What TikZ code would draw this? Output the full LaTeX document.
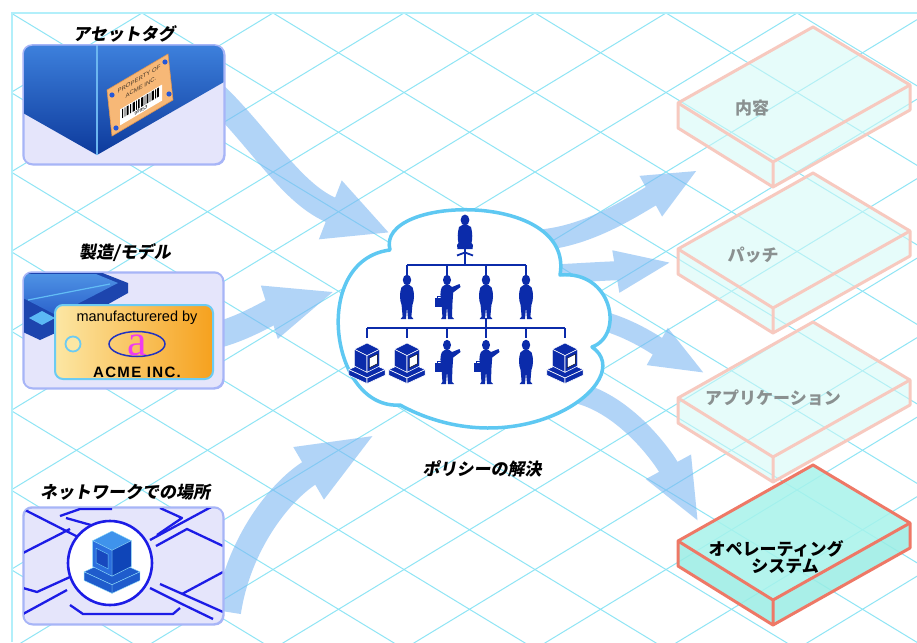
\documentclass[tikz,border=0pt]{standalone}
\usepackage{fontspec}
\usetikzlibrary{arrows.meta}
\newfontfamily\jplab[FakeSlant=0.18]{Noto Sans CJK JP}
\newfontfamily\jpbox{Noto Sans CJK JP}
\newfontfamily\lsans{Liberation Sans}
\newfontfamily\acmefont[LetterSpace=9]{Liberation Sans}
\newfontfamily\lserif{Liberation Serif}

\definecolor{gridc}{HTML}{8FE5F5}
\definecolor{framec}{HTML}{B2EFFA}
\definecolor{flowc}{HTML}{7DB8F3}
\definecolor{panelfill}{HTML}{E5E5FB}
\definecolor{paneledge}{HTML}{A7B5F7}
\definecolor{assettop}{HTML}{3D80DC}
\definecolor{assetbot}{HTML}{0D3A9C}
\definecolor{assetseam}{HTML}{6CB6F0}
\definecolor{tagorange}{HTML}{F7B877}
\definecolor{tagrim}{HTML}{DE9450}
\definecolor{taginkc}{HTML}{4A3A2A}
\definecolor{dotblue}{HTML}{2457D8}
\definecolor{trayblue}{HTML}{1D45AE}
\definecolor{traylight}{HTML}{4E92E4}
\definecolor{traymid}{HTML}{2B62CC}
\definecolor{trayglint}{HTML}{62BDF5}
\definecolor{traydiamond}{HTML}{5BB8F5}
\definecolor{mtagedge}{HTML}{6CCBF2}
\definecolor{mtagyellow}{HTML}{FCE7A4}
\definecolor{mtagmid}{HTML}{FBDB8C}
\definecolor{mtagorange}{HTML}{F6A11E}
\definecolor{logoblue}{HTML}{2233C0}
\definecolor{logopink}{HTML}{F03CF0}
\definecolor{netblue}{HTML}{1C1CE6}
\definecolor{pctopc}{HTML}{3F93EC}
\definecolor{pcrimc}{HTML}{8FDDFB}
\definecolor{pcdarkc}{HTML}{0F45B8}
\definecolor{pcmidc}{HTML}{2B6EDD}
\definecolor{pcbasec}{HTML}{1F5CCC}
\definecolor{pcscreenc}{HTML}{1848BE}
\definecolor{pcscreenrim}{HTML}{6CC8F6}
\definecolor{cloudedge}{HTML}{5EC8F2}
\definecolor{orgblue}{HTML}{0B2BAA}
\definecolor{slabfill}{HTML}{D2FAF6}
\definecolor{slabedge}{HTML}{F7C9BF}
\definecolor{osfill}{HTML}{A7F3EB}
\definecolor{osside}{HTML}{9AEDE4}
\definecolor{osedge}{HTML}{EE7866}
\definecolor{fadedtext}{HTML}{8A9090}

\tikzset{
  gridline/.style={draw=gridc, line width=1pt},
  flow/.style={draw=flowc, line width=#1},
  panel/.style={rounded corners=9pt, fill=panelfill, draw=paneledge, line width=1.5pt, inner sep=0pt},
  paneledgeonly/.style={rounded corners=9pt, draw=paneledge, line width=1.5pt},
  lab/.style={font=\jplab\bfseries\fontsize{17}{17}\selectfont, text=black, inner sep=0pt},
  boxlab/.style={font=\jpbox\bfseries\fontsize{17}{17}\selectfont, inner sep=0pt},
  netline/.style={draw=netblue, line width=2.3pt, line join=round},
  orgline/.style={draw=orgblue, line width=1.6pt},
  pc top/.style={fill=orgblue, draw=white, line width=0.6pt, line join=round},
  pc left/.style={fill=orgblue, draw=white, line width=0.6pt, line join=round},
  pc right/.style={fill=orgblue, draw=white, line width=0.6pt, line join=round},
  pc base/.style={fill=orgblue, draw=white, line width=0.6pt, line join=round},
  pc screen/.style={fill=white},
  slab top/.style={fill=slabfill, fill opacity=0.55},
  slab side/.style={fill=slabfill, fill opacity=0.55},
  slab edge/.style={draw=slabedge, line width=3pt, line join=round},
  pics/person/.style={code={
    \fill[orgblue] (0,5) ellipse [x radius=4.2pt, y radius=5.3pt];
    \fill[orgblue] (-1.8,9.5) -- (1.8,9.5) -- (5.6,12.5) .. controls (7.6,18) and (7.4,25) .. (5.4,30)
      -- (4.4,41.5) -- (6.4,44) -- (1,44) -- (0,32) -- (-1,44) -- (-6.4,44) -- (-4.4,41.5) -- (-5.4,30)
      .. controls (-7.4,25) and (-7.6,18) .. (-5.6,12.5) -- cycle;
  }},
  pics/pointer/.style={code={
    \fill[orgblue] (0,5) ellipse [x radius=4pt, y radius=5.2pt];
    \fill[orgblue] (-1.8,9.5) -- (1.8,9.5) -- (5,12) -- (12.5,9) -- (13.5,12) -- (6.2,17.5) -- (5.4,29)
      -- (5,42) -- (7,44) -- (1,44) -- (0,31) -- (-1,44) -- (-6,44) -- (-4.6,42) -- (-5.4,29)
      .. controls (-7,22) and (-7,15) .. (-5,12) -- cycle;
    \fill[orgblue] (-12,23) rectangle (-4,32);
    \draw[orgblue, line width=1pt] (-10,23) -- (-10,21) -- (-6,21) -- (-6,23);
  }},
  pics/seated/.style={code={
    \fill[orgblue] (0,5) ellipse [x radius=4.4pt, y radius=5.5pt];
    \fill[orgblue] (-1.8,9.5) -- (1.8,9.5) -- (6,12) .. controls (7.6,18) and (7.6,24) .. (6.5,28) -- (8,30)
      -- (7.5,34) -- (-7.5,34) -- (-8,30) -- (-6.5,28) .. controls (-7.6,24) and (-7.6,18) .. (-6,12) -- cycle;
    \fill[orgblue] (-1.4,34) rectangle (1.4,38);
    \draw[orgblue, line width=1.8pt] (-8,40.5) -- (0,37.5) -- (8,40.5) (0,37.5) -- (0,41);
  }},
  pics/computer/.style={code={
    \filldraw[pc base] (-13,19) -- (0,13) -- (13,19) -- (0,25) -- cycle;
    \filldraw[pc base] (-13,19) -- (0,25) -- (0,29) -- (-13,23) -- cycle;
    \filldraw[pc base] (0,25) -- (13,19) -- (13,23) -- (0,29) -- cycle;
    \filldraw[pc top] (-9,4.5) -- (0,0) -- (9,4.5) -- (0,9) -- cycle;
    \filldraw[pc left] (-9,4.5) -- (0,9) -- (0,21) -- (-9,16.5) -- cycle;
    \filldraw[pc right] (0,9) -- (9,4.5) -- (9,16.5) -- (0,21) -- cycle;
    \filldraw[pc screen] (1.8,10.8) -- (7.4,8) -- (7.4,14.8) -- (1.8,17.6) -- cycle;
  }},
  pics/slab/.style={code={
    \fill[slab top] (0,0) -- (97,58) -- (-40,135) -- (-135,76) -- cycle;
    \fill[slab side] (-135,76) -- (-40,135) -- (-40,160) -- (-135,101) -- cycle;
    \fill[slab side] (-40,135) -- (97,58) -- (97,83) -- (-40,160) -- cycle;
    \draw[slab edge] (0,0) -- (97,58) -- (97,83) -- (-40,160) -- (-135,101) -- (-135,76) -- cycle;
    \draw[slab edge] (-135,76) -- (-40,135) -- (97,58) (-40,135) -- (-40,160);
  }}
}

\begin{document}
\begin{tikzpicture}[x=1pt,y=-1pt]
\useasboundingbox (0,0) rectangle (917,642);
\fill[white] (0,0) rectangle (917,642);

% isometric background grid
\begin{scope}
  \clip (12,13) rectangle (917,642);
  \foreach \k in {-9,...,15}{
    \draw[gridline] ({11+131*\k},13) -- ++(1800,1092.4);
    \draw[gridline] ({11+131*\k},13) -- ++(-1800,1092.4);
  }
\end{scope}
\draw[draw=framec, line width=2pt] (12,642) -- (12,13) -- (917,13);

% end points of the flow arrows
\coordinate (a1s) at (212,92);   \coordinate (a1e) at (390,233);
\coordinate (a2s) at (214,336);  \coordinate (a2e) at (336,291);
\coordinate (a3s) at (228,612);  \coordinate (a3e) at (376,434);
\coordinate (r1s) at (540,240);  \coordinate (r1e) at (698,170);
\coordinate (r2s) at (555,274);  \coordinate (r2e) at (673,262);
\coordinate (r3s) at (585,318);  \coordinate (r3e) at (706,374);
\coordinate (r4s) at (578,393);  \coordinate (r4e) at (699,523);

% translucent flow arrows
\begin{scope}[transparency group, opacity=0.6]
  \draw[flow=26pt, -{Triangle[length=64pt,width=58pt]}] (a1s) .. controls (262,140) and (292,195) .. (a1e);
  \draw[flow=26pt, -{Triangle[length=70pt,width=50pt]}] (a2s) .. controls (245,328) and (270,312) .. (a2e);
  \draw[flow=26pt, -{Triangle[length=78pt,width=54pt]}] (a3s) .. controls (238,545) and (280,490) .. (a3e);
  \draw[flow=21pt, -{Triangle[length=54pt,width=42pt]}] (r1s) .. controls (590,236) and (635,205) .. (r1e);
  \draw[flow=19pt, -{Triangle[length=58pt,width=38pt]}] (r2s) .. controls (590,272) and (625,270) .. (r2e);
  \draw[flow=19pt, -{Triangle[length=56pt,width=38pt]}] (r3s) .. controls (620,320) and (660,348) .. (r3e);
  \draw[flow=21pt, -{Triangle[length=64pt,width=46pt]}] (r4s) .. controls (625,405) and (662,455) .. (r4e);
\end{scope}

% ---------- asset tag panel ----------
\node[panel, minimum width=201pt, minimum height=119pt, anchor=north west] (asset) at (23,45) {};
\begin{scope}
  \clip[rounded corners=9pt] (23,45) rectangle (224,164);
  \shade[top color=assettop, bottom color=assetbot] (23,45) -- (224,45) -- (224,82) -- (97,155) -- (23,113) -- cycle;
  \draw[draw=assetseam, line width=1.3pt] (97,45) -- (97,155);
\end{scope}
\draw[paneledgeonly] (23,45) rectangle (224,164);
\filldraw[fill=tagorange, draw=tagrim, line width=0.6pt] (107,90) -- (168,54) -- (173,100) -- (112,136) -- cycle;
\fill[dotblue] (112,95) circle (2.6pt) (165,62) circle (2.6pt) (169,94) circle (2.6pt) (116,128) circle (2.6pt);
\node[font=\lsans\fontsize{6}{6}\selectfont, text=taginkc, yslant=0.59, inner sep=0pt] (tagowner) at (139,79) {PROPERTY OF};
\node[font=\lsans\fontsize{6}{6}\selectfont, text=taginkc, yslant=0.59, inner sep=0pt] (tagfirm) at (141,87) {ACME INC.};
\begin{scope}[shift={(141,104)}, yslant=0.59]
  \fill[white] (-21,-7) rectangle (21,9);
  \foreach \bx/\bw in {-19/1.2,-16.5/0.8,-14.5/2,-11/1,-8.5/2.4,-5/0.8,-3/1.6,0/2.4,3.5/0.9,5.5/1.8,8.5/0.8,10.5/2.4,14/1,16/1.8}
    \fill[black] (\bx,-6) rectangle ++(\bw,9);
  \node[font=\lsans\fontsize{4.5}{4.5}\selectfont, inner sep=0pt, transform shape] (tagnum) at (0,6.2) {99953};
\end{scope}
\node[lab] (assetlab) at (124,34) {アセットタグ};

% ---------- make / model panel ----------
\node[panel, minimum width=200pt, minimum height=116pt, anchor=north west] (make) at (23,272) {};
\begin{scope}
  \clip[rounded corners=9pt] (23,272) rectangle (223,388);
  \fill[trayblue] (23,272) -- (100,272) -- (128,283) -- (128,293) -- (62,330) -- (40,340) -- (23,332) -- cycle;
  \shade[top color=traylight, bottom color=traymid] (23,274) -- (96,274) -- (118,283) -- (56,315) -- (23,298) -- cycle;
  \draw[draw=trayglint, line width=1.2pt] (28,300) -- (110,284);
  \fill[traydiamond] (29,318) -- (42,311) -- (55,318) -- (42,325) -- cycle;
\end{scope}
\draw[paneledgeonly] (23,272) rectangle (223,388);
\shade[rounded corners=8pt, left color=mtagyellow, middle color=mtagmid, right color=mtagorange] (55,305) rectangle (213,379);
\draw[rounded corners=8pt, draw=mtagedge, line width=2pt] (55,305) rectangle (213,379);
\draw[draw=mtagedge, fill=mtagyellow, line width=1.8pt] (73,344) circle (7.5pt);
\node[font=\lsans\fontsize{14.5}{14.5}\selectfont, inner sep=0pt] (madeby) at (137,318) {manufacturered by};
\draw[draw=logoblue, line width=1.5pt] (137,344) ellipse [x radius=28pt, y radius=12.5pt];
\node[font=\lserif\fontsize{44}{44}\selectfont, text=logopink, inner sep=0pt] (logo) at (137,345) {a};
\node[font=\acmefont\bfseries\fontsize{15}{15}\selectfont, inner sep=0pt] (acme) at (137,372) {ACME INC.};
\node[lab] (makelab) at (125,253) {製造/モデル};

% ---------- network location panel ----------
\node[panel, minimum width=200pt, minimum height=117pt, anchor=north west] (net) at (23,507) {};
\begin{scope}
  \clip[rounded corners=9pt] (23,507) rectangle (223,624);
  \draw[netline] (25,510) -- (80,538);
  \draw[netline] (23,553) -- (70,529);
  \draw[netline] (60,516) -- (80,509) -- (112,509);
  \draw[netline] (66,518) -- (98,527);
  \draw[netline] (150,540) -- (213,506);
  \draw[netline] (156,546) -- (187,529) -- (223,546);
  \draw[netline] (160,508) -- (182,518) -- (157,535);
  \draw[netline] (182,594) -- (223,572);
  \draw[netline] (150,588) -- (182,604) -- (213,619);
  \draw[netline] (160,584) -- (223,612);
  \draw[netline] (70,605) -- (83,614) -- (173,614) -- (180,608);
  \draw[netline] (23,588) -- (37,592) -- (70,577);
  \draw[netline] (23,614) -- (67,590);
\end{scope}
\draw[paneledgeonly] (23,507) rectangle (223,624);
\draw[draw=netblue, fill=white, line width=2.6pt] (110,563) circle (42pt);
\pic[xscale=-2.15, yscale=2.15,
     pc top/.style={fill=pctopc, draw=pcrimc, line width=0.4pt, line join=round},
     pc left/.style={fill=pcdarkc, draw=pcrimc, line width=0.4pt, line join=round},
     pc right/.style={fill=pcmidc, draw=pcrimc, line width=0.4pt, line join=round},
     pc base/.style={fill=pcbasec, draw=pcrimc, line width=0.4pt, line join=round},
     pc screen/.style={fill=pcscreenc, draw=pcscreenrim, line width=0.5pt}] at (112,531) {computer};
\node[lab] (netlab) at (125,492) {ネットワークでの場所};

% ---------- policy cloud ----------
\draw[draw=cloudedge, fill=white, line width=3.5pt, line join=round]
  (390,250) .. controls (375,195) and (575,190) .. (560,275)
  .. controls (612,270) and (625,335) .. (592,347)
  .. controls (640,380) and (520,470) .. (400,405)
  .. controls (330,410) and (310,260) .. (390,250) -- cycle;

% organisation chart
\pic at (465,215) {seated};
\draw[orgline] (465,256) -- (465,265);
\draw[orgline] (407,265) -- (526,265);
\foreach \px in {407,447,486,526} \draw[orgline] (\px,265) -- (\px,275);
\pic at (407,275) {person};
\pic at (447,275) {pointer};
\pic at (486,275) {person};
\pic at (526,275) {person};
\draw[orgline] (486,318) -- (486,328);
\draw[orgline] (367,328) -- (565,328);
\foreach \px in {367,407,447,486,526,565} \draw[orgline] (\px,328) -- (\px,338);
\pic[scale=1.4] at (367,343) {computer};
\pic[scale=1.4] at (407,343) {computer};
\pic at (447,340) {pointer};
\pic at (486,340) {pointer};
\pic at (526,340) {person};
\pic[scale=1.4] at (565,343) {computer};
\node[lab] (policylab) at (482,469) {ポリシーの解決};

% ---------- target layers ----------
\pic at (813,27) {slab};
\pic at (813,173) {slab};
\pic at (813,322) {slab};
\pic[slab top/.style={fill=osfill, fill opacity=0.85},
     slab side/.style={fill=osside, fill opacity=0.85},
     slab edge/.style={draw=osedge, line width=3pt, line join=round}] at (813,465) {slab};
\node[boxlab, text=fadedtext] (contents) at (752,108) {内容};
\node[boxlab, text=fadedtext] (patch) at (753,255) {パッチ};
\node[boxlab, text=fadedtext] (apps) at (773,398) {アプリケーション};
\node[boxlab, text=black, align=center] (os) at (776,557) {オペレーティング\\\hspace*{18pt}システム};
\end{tikzpicture}
\end{document}
